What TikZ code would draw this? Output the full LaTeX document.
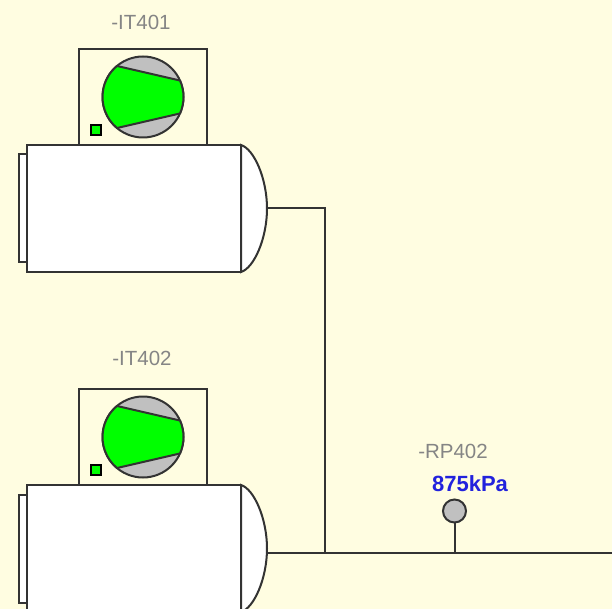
\documentclass[tikz,border=0pt]{standalone}
\usepackage{fontspec}
\setmainfont{Liberation Sans}
\usetikzlibrary{positioning}
\definecolor{panelbg}{HTML}{FFFDE1}
\definecolor{wire}{HTML}{333333}
\definecolor{tagtext}{HTML}{858585}
\definecolor{stategreen}{HTML}{00FF00}
\definecolor{bodygrey}{HTML}{C0C0C0}
\definecolor{readblue}{HTML}{2222DD}
\tikzset{
  motorbody/.style={draw=wire, fill=white, line width=2pt, inner sep=0pt, outer sep=0pt, minimum width=214.5pt, minimum height=127pt},
  motorplate/.style={draw=wire, fill=white, line width=2pt, inner sep=0pt, outer sep=0pt, minimum width=8pt, minimum height=108pt},
  compbox/.style={draw=wire, fill=panelbg, line width=2pt, inner sep=0pt, outer sep=0pt, minimum width=128pt, minimum height=96pt},
  compdisc/.style={circle, draw=wire, fill=bodygrey, line width=2pt, inner sep=0pt, outer sep=0pt, minimum size=81pt},
  runlamp/.style={draw=black, fill=stategreen, line width=1.5pt, inner sep=0pt, outer sep=0pt, minimum size=10pt},
  gauge/.style={circle, draw=wire, fill=bodygrey, line width=2pt, inner sep=0pt, outer sep=0pt, minimum size=23pt},
  tag/.style={text=tagtext, font=\fontsize{20.5}{22}\selectfont, inner sep=0pt},
  reading/.style={text=readblue, font=\fontsize{22}{24}\selectfont\bfseries, inner sep=0pt},
  pipe/.style={draw=wire, line width=2pt},
  rotor/.style={draw=wire, fill=stategreen, line width=2pt, line join=round}
}
\begin{document}
\begin{tikzpicture}[x=1pt, y=-1pt, node distance=340pt]
      \fill[panelbg] (0,0) rectangle (612,609);
      \useasboundingbox (0,0) rectangle (612,609);
      \clip (0,0) rectangle (612,609);
      % top motor
      \node[tag] (TagOne) at (141,22.5) {-IT401};
      \node[compbox] (BoxOne) at (143,97) {};
      \node[compdisc] (DiscOne) at (143,97) {};
      \draw[rotor] (DiscOne.130) -- (DiscOne.24) arc[start angle=24, end angle=-24, radius=40.5pt] -- (DiscOne.230) arc[start angle=230, end angle=130, radius=40.5pt] -- cycle;
      \node[runlamp] (LampOne) at (96,130) {};
      \node[motorbody] (MotorOne) at (133.75,208.5) {};
      \node[motorplate] (PlateOne) [left=0pt of MotorOne] {};
      \coordinate (DomeOne) at ([xshift=26pt]MotorOne.east);
      \draw[pipe, fill=white] (MotorOne.north east) .. controls ([xshift=13pt,yshift=-4pt]MotorOne.north east) and ([yshift=30pt]DomeOne) .. (DomeOne) .. controls ([yshift=-30pt]DomeOne) and ([xshift=13pt,yshift=4pt]MotorOne.south east) .. (MotorOne.south east) -- cycle;
      % bottom motor
      \node[tag] (TagTwo) at (142,358.5) {-IT402};
      \node[compbox] (BoxTwo) [below of=BoxOne] {};
      \node[compdisc] (DiscTwo) [below of=DiscOne] {};
      \draw[rotor] (DiscTwo.130) -- (DiscTwo.24) arc[start angle=24, end angle=-24, radius=40.5pt] -- (DiscTwo.230) arc[start angle=230, end angle=130, radius=40.5pt] -- cycle;
      \node[runlamp] (LampTwo) [below of=LampOne] {};
      \node[motorbody] (MotorTwo) [below of=MotorOne] {};
      \node[motorplate] (PlateTwo) [left=0pt of MotorTwo] {};
      \coordinate (DomeTwo) at ([xshift=26pt]MotorTwo.east);
      \draw[pipe, fill=white] (MotorTwo.north east) .. controls ([xshift=13pt,yshift=-4pt]MotorTwo.north east) and ([yshift=30pt]DomeTwo) .. (DomeTwo) .. controls ([yshift=-30pt]DomeTwo) and ([xshift=13pt,yshift=4pt]MotorTwo.south east) .. (MotorTwo.south east) -- cycle;
      % header and pressure point
      \coordinate (Outlet) at (267,552.5);
      \coordinate (Tee) at (325,552.5);
      \coordinate (HeaderEnd) at (612,552.5);
      \coordinate (GaugeFoot) at (454.5,552.5);
      \node[tag] (TagGauge) at (453,451.5) {-RP402};
      \node[reading] (ReadGauge) at (470,484) {875kPa};
      \node[gauge] (GaugeHead) at (454.5,511) {};
      \draw[pipe] (DomeOne) -| (Tee);
      \draw[pipe] (Outlet) -- (HeaderEnd);
      \draw[pipe] (GaugeHead) -- (GaugeFoot);
    \end{tikzpicture}
\end{document}
